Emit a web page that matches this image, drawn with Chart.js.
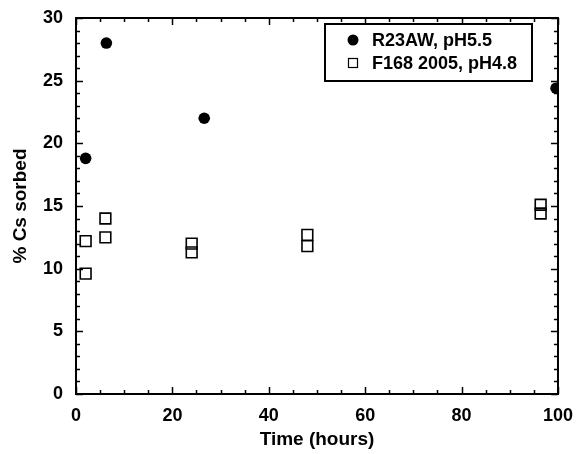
<!DOCTYPE html>
<html>
<head>
<meta charset="utf-8">
<script src="https://cdn.jsdelivr.net/npm/chart.js@4/dist/chart.umd.min.js"></script>
<style>
  html, body { margin: 0; padding: 0; background: #fff; }
  #wrap { width: 576px; height: 454px; }
</style>
</head>
<body>
<div id="wrap"><canvas id="c" width="576" height="454"></canvas></div>
<script>
// data
const r23Label = "R23AW, pH5.5";
const r23Time = [2, 6.3, 26.6, 99.6];
const r23Sorbed = [18.8, 28.0, 22.0, 24.4];

const f168Label = "F168 2005, pH4.8";
const f168Time = [2, 2, 6.1, 6.1, 24, 24, 48, 48, 96.4, 96.4];
const f168Sorbed = [12.2, 9.6, 14.0, 12.5, 12.0, 11.3, 12.7, 11.8, 15.1, 14.4];

const xTicks = [0, 20, 40, 60, 80, 100];
const yTicks = [0, 5, 10, 15, 20, 25, 30];

const FONT = "'Liberation Sans', Arial, sans-serif";

function pts(xs, ys) {
  return xs.map((x, i) => ({ x: x, y: ys[i] }));
}

// frame + inward ticks on all four sides, and the boxed legend
const framePlugin = {
  id: 'frame',
  afterDraw: function (chart) {
    const ctx = chart.ctx;
    const a = chart.chartArea;
    const xs = chart.scales.x, ys = chart.scales.y;
    ctx.save();
    ctx.strokeStyle = '#000';
    ctx.lineWidth = 2;
    ctx.strokeRect(a.left, a.top, a.right - a.left, a.bottom - a.top);

    ctx.lineWidth = 1.5;
    ctx.beginPath();
    for (let v = 0; v <= 100; v += 5) {
      const px = Math.round(xs.getPixelForValue(v)) + 0.5;
      const len = (v % 20 === 0) ? 7 : 4;
      ctx.moveTo(px, a.bottom); ctx.lineTo(px, a.bottom - len);
      ctx.moveTo(px, a.top); ctx.lineTo(px, a.top + len);
    }
    for (let v = 0; v <= 30; v += 1) {
      const py = Math.round(ys.getPixelForValue(v)) + 0.5;
      const len = (v % 5 === 0) ? 7 : 4;
      ctx.moveTo(a.left, py); ctx.lineTo(a.left + len, py);
      ctx.moveTo(a.right, py); ctx.lineTo(a.right - len, py);
    }
    ctx.stroke();

    // legend box
    const bx = 325, by = 24, bw = 207, bh = 57;
    ctx.fillStyle = '#fff';
    ctx.fillRect(bx, by, bw, bh);
    ctx.lineWidth = 2;
    ctx.strokeRect(bx, by, bw, bh);
    ctx.font = 'bold 18px ' + FONT;
    ctx.textBaseline = 'middle';
    ctx.textAlign = 'left';
    chart.data.datasets.forEach(function (ds, i) {
      const cy = by + 16 + i * 23;
      const mx = bx + 28;
      ctx.fillStyle = '#000';
      ctx.strokeStyle = '#000';
      if (ds.pointStyle === 'circle') {
        ctx.beginPath();
        ctx.arc(mx, cy, 5.5, 0, Math.PI * 2);
        ctx.fill();
      } else {
        ctx.lineWidth = 1.2;
        ctx.strokeRect(mx - 4.5, cy - 4.5, 9, 9);
      }
      ctx.fillText(ds.label, bx + 47, cy + 1);
    });
    ctx.restore();
  }
};

new Chart(document.getElementById('c'), {
  type: 'scatter',
  data: {
    datasets: [
      {
        label: r23Label,
        data: pts(r23Time, r23Sorbed),
        pointStyle: 'circle',
        pointRadius: 5.8,
        backgroundColor: '#000',
        borderColor: '#000',
        borderWidth: 0
      },
      {
        label: f168Label,
        data: pts(f168Time, f168Sorbed),
        pointStyle: 'rect',
        pointRadius: 7.6,
        backgroundColor: 'rgba(255,255,255,0)',
        borderColor: '#000',
        borderWidth: 1.6
      }
    ]
  },
  options: {
    responsive: false,
    animation: false,
    layout: { padding: { top: 18, right: 17, left: 0, bottom: 0 } },
    plugins: {
      legend: { display: false },
      tooltip: { enabled: false }
    },
    scales: {
      x: {
        type: 'linear',
        min: 0, max: 100,
        afterBuildTicks: function (s) { s.ticks = xTicks.map(v => ({ value: v })); },
        grid: { display: false },
        border: { display: false },
        ticks: {
          color: '#000',
          padding: 3,
          font: { family: FONT, size: 18, weight: 'bold' },
          maxRotation: 0
        },
        title: {
          display: true,
          text: 'Time (hours)',
          color: '#000',
          padding: { top: 2, bottom: 3 },
          font: { family: FONT, size: 19, weight: 'bold' }
        },
        afterFit: function (s) { s.height = 60; }
      },
      y: {
        type: 'linear',
        min: 0, max: 30,
        afterBuildTicks: function (s) { s.ticks = yTicks.map(v => ({ value: v })); },
        grid: { display: false },
        border: { display: false },
        ticks: {
          color: '#000',
          padding: 5,
          font: { family: FONT, size: 18, weight: 'bold' }
        },
        title: {
          display: true,
          text: '% Cs sorbed',
          color: '#000',
          padding: { top: 9, bottom: 4 },
          font: { family: FONT, size: 19, weight: 'bold' }
        },
        afterFit: function (s) { s.width = 76; }
      }
    }
  },
  plugins: [framePlugin]
});
</script>
</body>
</html>
